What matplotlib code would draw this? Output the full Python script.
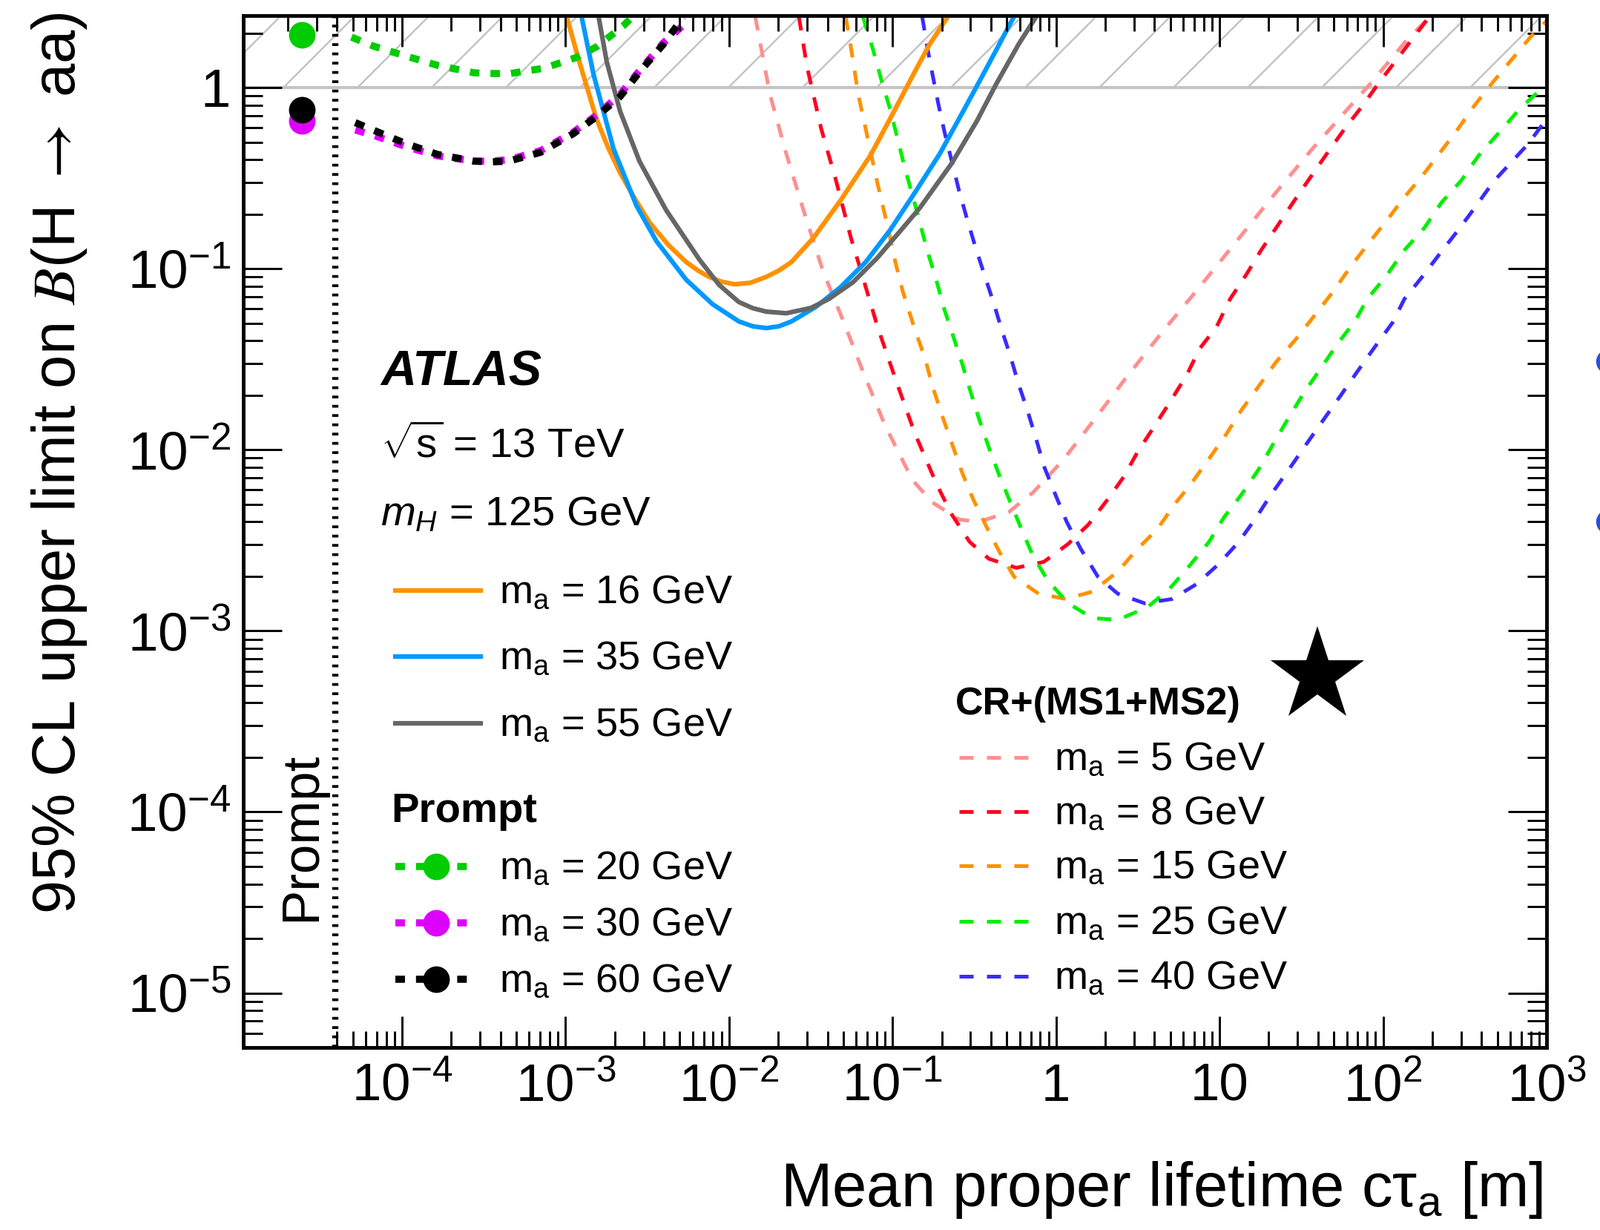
import numpy as np
import matplotlib
matplotlib.use("Agg")
import matplotlib.pyplot as plt
from matplotlib.lines import Line2D
from matplotlib.ticker import FixedLocator, NullFormatter

plt.rcParams.update({
    "font.family": ["Liberation Sans", "DejaVu Sans"],
    "mathtext.fontset": "custom",
    "mathtext.rm": "Liberation Sans",
    "mathtext.it": "Liberation Sans:italic",
    "mathtext.bf": "Liberation Sans:bold",
    "hatch.linewidth": 0.6,
    "hatch.color": "#c4c4c4",
})

W, H, DPI = 2157, 1658, 300

# axis ranges; the strip left of the divider holds the prompt results
XMIN, XMAX = 1.07e-5, 1e3
YMIN, YMAX = 5e-6, 2.5
X_PROMPT = 2.44e-5
X_DIVIDER = 3.9e-5

# curves as log10(c tau [m]) / log10(limit)
# --- displaced, ID+MS (solid)
ma16_lx = [-2.993, -2.920, -2.811, -2.740, -2.666, -2.575, -2.485, -2.370, -2.262, -2.190,
           -2.122, -2.045, -1.967, -1.870, -1.772, -1.695, -1.618, -1.482, -1.318, -1.137,
           -1.015, -0.865, -0.774, -0.661]
ma16_ly = [0.393, 0.156, -0.172, -0.330, -0.471, -0.615, -0.746, -0.870, -0.963, -1.010,
           -1.045, -1.072, -1.086, -1.078, -1.045, -1.010, -0.963, -0.828, -0.623, -0.377,
           -0.172, 0.086, 0.238, 0.393]
ma35_lx = [-2.902, -2.829, -2.707, -2.566, -2.444, -2.262, -2.099, -1.940, -1.855, -1.772,
           -1.695, -1.618, -1.468, -1.318, -1.164, -1.015, -0.865, -0.711, -0.561, -0.438,
           -0.348, -0.257]
ma35_ly = [0.393, 0.074, -0.336, -0.652, -0.848, -1.061, -1.197, -1.291, -1.318, -1.328,
           -1.318, -1.291, -1.210, -1.102, -0.963, -0.787, -0.582, -0.365, -0.119, 0.086,
           0.238, 0.393]
ma55_lx = [-2.798, -2.748, -2.666, -2.548, -2.385, -2.181, -2.060, -1.940, -1.855, -1.772,
           -1.650, -1.500, -1.391, -1.241, -1.092, -0.937, -0.833, -0.638, -0.484, -0.366,
           -0.230, -0.121]
ma55_ly = [0.393, 0.143, -0.131, -0.406, -0.676, -0.950, -1.090, -1.184, -1.218, -1.237,
           -1.246, -1.217, -1.168, -1.074, -0.939, -0.775, -0.664, -0.418, -0.184, 0.020,
           0.238, 0.393]

# --- prompt (dotted + point in the prompt strip)
p20_lx = [-4.309, -4.177, -3.982, -3.782, -3.560, -3.446, -3.338, -3.133, -2.929, -2.811, -2.648, -2.589]
p20_ly = [0.279, 0.230, 0.176, 0.123, 0.082, 0.078, 0.078, 0.107, 0.168, 0.225, 0.340, 0.393]
p30_lx = [-4.286, -4.177, -3.982, -3.782, -3.560, -3.456, -3.347, -3.152, -2.952, -2.811,
          -2.666, -2.548, -2.403, -2.244]
p30_ly = [-0.234, -0.262, -0.324, -0.377, -0.406, -0.406, -0.398, -0.348, -0.246, -0.152,
          -0.037, 0.094, 0.246, 0.373]
p60_lx = [-4.286, -4.177, -3.982, -3.782, -3.560, -3.456, -3.347, -3.152, -2.952, -2.811,
          -2.666, -2.548, -2.403, -2.280]
p60_ly = [-0.193, -0.234, -0.307, -0.369, -0.406, -0.410, -0.406, -0.357, -0.254, -0.160,
          -0.049, 0.086, 0.238, 0.389]
prompt_point = {"20": 1.95, "30": 0.654, "60": 0.753}

# --- CR+(MS1+MS2) (dashed)
cr5_lx = [-1.840, -1.750, -1.650, -1.545, -1.423, -1.300, -1.182, -1.046, -0.878, -0.756,
          -0.593, -0.470, -0.289, -0.139, 0.043, 0.242, 0.424, 0.651, 0.877, 1.104,
          1.331, 1.558, 1.799, 1.921, 2.148, 2.289]
cr5_ly = [0.393, -0.037, -0.365, -0.676, -1.020, -1.291, -1.566, -1.865, -2.168, -2.291,
          -2.385, -2.398, -2.344, -2.234, -2.057, -1.824, -1.607, -1.348, -1.102, -0.848,
          -0.594, -0.348, -0.102, 0.020, 0.266, 0.393]
cr8_lx = [-1.573, -1.523, -1.437, -1.346, -1.255, -1.196, -1.092, -0.983, -0.865, -0.729,
          -0.638, -0.529, -0.411, -0.243, -0.075, 0.074, 0.197, 0.315, 0.415, 0.496,
          0.605, 0.701, 0.800, 0.877, 0.982, 1.064, 1.163, 1.254, 1.358, 1.458,
          1.558, 1.662, 1.767, 1.876, 1.980, 2.084, 2.198, 2.284]
cr8_ly = [0.393, 0.115, -0.225, -0.512, -0.828, -1.004, -1.320, -1.607, -1.906, -2.193,
          -2.357, -2.508, -2.602, -2.652, -2.619, -2.520, -2.414, -2.275, -2.148, -2.016,
          -1.865, -1.730, -1.586, -1.443, -1.320, -1.168, -1.033, -0.898, -0.758, -0.623,
          -0.492, -0.357, -0.225, -0.098, 0.033, 0.156, 0.291, 0.393]
cr15_lx = [-1.287, -1.255, -1.210, -1.151, -1.092, -1.028, -0.983, -0.937, -0.865, -0.801,
           -0.756, -0.697, -0.638, -0.574, -0.506, -0.425, -0.348, -0.257, -0.107, 0.061,
           0.224, 0.378, 0.496, 0.619, 0.723, 0.832, 0.936, 1.041, 1.132, 1.240,
           1.345, 1.467, 1.581, 1.694, 1.799, 1.903, 2.012, 2.125, 2.239, 2.343,
           2.447, 2.556, 2.674, 2.901, 3.001]
cr15_ly = [0.393, 0.225, -0.037, -0.283, -0.529, -0.775, -0.963, -1.127, -1.332, -1.496,
           -1.648, -1.811, -1.963, -2.127, -2.275, -2.426, -2.561, -2.701, -2.795, -2.824,
           -2.783, -2.672, -2.549, -2.439, -2.303, -2.180, -2.049, -1.914, -1.783, -1.648,
           -1.516, -1.389, -1.258, -1.127, -0.992, -0.869, -0.746, -0.611, -0.488, -0.365,
           -0.242, -0.102, 0.033, 0.279, 0.369]
cr25_lx = [-1.182, -1.119, -1.069, -1.015, -0.969, -0.924, -0.878, -0.833, -0.788, -0.733,
           -0.683, -0.629, -0.574, -0.524, -0.470, -0.411, -0.348, -0.279, -0.211, -0.139,
           -0.048, 0.074, 0.224, 0.378, 0.560, 0.696, 0.814, 0.936, 1.027, 1.132,
           1.240, 1.331, 1.422, 1.513, 1.617, 1.722, 1.830, 1.903, 2.025, 2.130,
           2.252, 2.357, 2.479, 2.583, 2.692, 2.842, 2.987]
cr25_ly = [0.393, 0.209, 0.045, -0.119, -0.283, -0.447, -0.594, -0.746, -0.898, -1.061,
           -1.225, -1.373, -1.525, -1.676, -1.832, -1.988, -2.139, -2.291, -2.439, -2.590,
           -2.725, -2.848, -2.930, -2.939, -2.869, -2.766, -2.643, -2.508, -2.373, -2.250,
           -2.107, -1.963, -1.824, -1.689, -1.553, -1.414, -1.287, -1.168, -1.033, -0.898,
           -0.775, -0.635, -0.512, -0.377, -0.266, -0.111, 0.008]
cr40_lx = [-0.819, -0.788, -0.756, -0.720, -0.683, -0.638, -0.593, -0.547, -0.493, -0.434,
           -0.379, -0.334, -0.279, -0.230, -0.175, -0.121, -0.071, -0.003, 0.065, 0.152,
           0.256, 0.378, 0.542, 0.710, 0.859, 0.995, 1.118, 1.222, 1.313, 1.422,
           1.526, 1.631, 1.740, 1.844, 1.948, 2.057, 2.130, 2.239, 2.343, 2.466,
           2.570, 2.674, 2.887, 3.001]
cr40_ly = [0.393, 0.225, 0.074, -0.090, -0.242, -0.406, -0.570, -0.717, -0.881, -1.045,
           -1.197, -1.332, -1.484, -1.635, -1.783, -1.943, -2.098, -2.250, -2.398, -2.549,
           -2.701, -2.795, -2.848, -2.824, -2.742, -2.631, -2.508, -2.377, -2.250, -2.111,
           -1.975, -1.840, -1.701, -1.566, -1.434, -1.299, -1.168, -1.045, -0.922, -0.779,
           -0.652, -0.520, -0.311, -0.172]

SOLID = [("16", ma16_lx, ma16_ly, "#ff9100"),
         ("35", ma35_lx, ma35_ly, "#0099ff"),
         ("55", ma55_lx, ma55_ly, "#666666")]
PROMPT = [("20", p20_lx, p20_ly, "#00cc00"),
          ("30", p30_lx, p30_ly, "#dd00ff"),
          ("60", p60_lx, p60_ly, "black")]
DASHED = [("5", cr5_lx, cr5_ly, "#ff8f8f"),
          ("8", cr8_lx, cr8_ly, "#ff0020"),
          ("15", cr15_lx, cr15_ly, "#ff9100"),
          ("25", cr25_lx, cr25_ly, "#00f000"),
          ("40", cr40_lx, cr40_ly, "#3a2bff")]

XMAJOR = [1e-4, 1e-3, 1e-2, 1e-1, 1, 10, 1e2, 1e3]
XLABELS = [r"$10^{-4}$", r"$10^{-3}$", r"$10^{-2}$", r"$10^{-1}$", "1", "10",
           r"$10^{2}$", r"$10^{3}$"]
YMAJOR = [1e-5, 1e-4, 1e-3, 1e-2, 1e-1, 1]
YLABELS = [r"$10^{-5}$", r"$10^{-4}$", r"$10^{-3}$", r"$10^{-2}$", r"$10^{-1}$", "1"]

SOLID_LW, DASH_LW, DOT_LW = 1.5, 1.2, 2.3
DASHES, DOTS = (3.8, 3.6), (1.35, 1.55)


def fx(x):
    return x / W


def fy(y):
    return 1 - y / H


fig = plt.figure(figsize=(W / DPI, H / DPI), dpi=DPI)
ax = fig.add_axes([fx(328), fy(1412), (2085 - 328) / W, (1412 - 21) / H])
ax.set_xscale("log"); ax.set_yscale("log")
ax.set_xlim(XMIN, XMAX); ax.set_ylim(YMIN, YMAX)

# excluded band above BR = 1
ax.axhspan(1, 10, facecolor="none", edgecolor="#c4c4c4", hatch="/", lw=0, zorder=0.5)
ax.axhline(1, color="#c4c4c4", lw=1.0, zorder=0.6)
ax.axvline(X_DIVIDER, color="black", lw=2.0, dashes=(0.45, 1.05), zorder=1)

for _, lx, ly, c in SOLID:
    ax.plot(10 ** np.array(lx), 10 ** np.array(ly), color=c, lw=SOLID_LW, zorder=3)
for _, lx, ly, c in DASHED:
    ax.plot(10 ** np.array(lx), 10 ** np.array(ly), color=c, lw=DASH_LW,
            dashes=DASHES, zorder=2)
for i, (m, lx, ly, c) in enumerate(PROMPT):
    ax.plot(10 ** np.array(lx), 10 ** np.array(ly), color=c, lw=DOT_LW,
            dashes=DOTS, dash_capstyle="butt", zorder=4 + i)
    ax.plot(X_PROMPT, prompt_point[m], "o", color=c, ms=8.6, mec="none", zorder=4 + i)

# ticks (ROOT style: inward on all four sides)
xminor = [k * 10.0 ** e for e in range(-5, 3) for k in range(2, 10)]
ax.set_xticks(XMAJOR, XLABELS)
ax.xaxis.set_minor_locator(FixedLocator([v for v in xminor if v >= 3.95e-5]))
ax.xaxis.set_minor_formatter(NullFormatter())
yminor = [k * 10.0 ** e for e in range(-6, 1) for k in range(2, 10)]
ax.set_yticks(YMAJOR, YLABELS)
ax.yaxis.set_minor_locator(FixedLocator([v for v in yminor if YMIN <= v <= YMAX]))
ax.yaxis.set_minor_formatter(NullFormatter())
ax.tick_params(which="both", direction="in", top=False, right=True, width=0.7)
ax.tick_params(axis="x", which="major", length=10, pad=5, labelsize=17)
ax.tick_params(axis="x", which="minor", length=5.2)
ax.tick_params(axis="y", which="major", length=12.5, pad=4, labelsize=17.5)
ax.tick_params(axis="y", which="minor", length=6.2)
for s in ax.spines.values():
    s.set_linewidth(1.1)

axt = ax.twiny()
axt.set_xscale("log"); axt.set_xlim(XMIN, XMAX)
axt.set_xticks(XMAJOR, [""] * len(XMAJOR))
axt.xaxis.set_minor_locator(FixedLocator([v for v in xminor if v >= 1.95e-5]))
axt.xaxis.set_minor_formatter(NullFormatter())
axt.tick_params(which="both", direction="in", width=0.7, labeltop=False)
axt.tick_params(which="major", length=10)
axt.tick_params(which="minor", length=5)
for s in axt.spines.values():
    s.set_linewidth(1.1)

# axis titles
fig.text(fx(2080), fy(1626), "Mean proper lifetime cτ$_{\\mathrm{a}}$ [m]",
         ha="right", va="baseline", fontsize=20)
fig.text(fx(80), fy(16), r"95% CL upper limit on $\mathit{B}$(H $\rightarrow$ aa)",
         rotation=90, ha="center", va="top", fontsize=19.5, math_fontfamily="stix")
fig.text(fx(425), fy(1128), "Prompt", rotation=90, rotation_mode="anchor",
         ha="center", va="baseline", fontsize=17)

# labels block
fig.text(fx(513), fy(519), "ATLAS", fontsize=16, fontweight="bold", fontstyle="italic",
         va="baseline")
fig.text(fx(513), fy(617), r"$\sqrt{\mathrm{s}}$ = 13 TeV", fontsize=13.5, va="baseline")
fig.text(fx(513), fy(708), r"$m_{H}$ = 125 GeV", fontsize=13.5, va="baseline")
fig.text(fx(527), fy(1108), "Prompt", fontsize=13.5, fontweight="bold", va="baseline")
fig.text(fx(1288), fy(963), "CR+(MS1+MS2)", fontsize=12.5, fontweight="bold", va="baseline")
fig.add_artist(Line2D([fx(1776)], [fy(911)], marker="*", ms=32, color="black",
                      mec="none", transform=fig.transFigure))


def entry(y, x0, x1, xt, label, marker=None, **kw):
    xs = [fx(x0), fx((x0 + x1) / 2), fx(x1)]
    fig.add_artist(Line2D(xs, [fy(y)] * 3, transform=fig.transFigure, marker=marker,
                          markevery=[1], **kw))
    fig.text(fx(xt), fy(y + 17), label, fontsize=13, va="baseline")


for (m, _, _, c), y in zip(SOLID, [796, 885, 975]):
    entry(y, 533, 648, 673, r"m$_{\mathrm{a}}$ = %s GeV" % m, color=c, lw=SOLID_LW)
for (m, _, _, c), y in zip(PROMPT, [1168, 1244, 1320]):
    entry(y, 533, 642, 673, r"m$_{\mathrm{a}}$ = %s GeV" % m, marker="o", color=c,
          lw=DOT_LW, dashes=DOTS, dash_capstyle="butt", ms=8.6, mec="none")
for (m, _, _, c), y in zip(DASHED, [1021, 1094, 1167, 1242, 1316]):
    entry(y, 1293, 1396, 1421, r"m$_{\mathrm{a}}$ = %s GeV" % m, color=c, lw=DASH_LW,
          dashes=DASHES)

# cropped markers from the neighbouring panel at the right edge
for y in (487, 703):
    fig.add_artist(Line2D([fx(2168)], [fy(y)], marker="o", ms=8, color="#2a4fd6",
                          mec="none", transform=fig.transFigure))

fig.savefig("out.png", dpi=DPI)
